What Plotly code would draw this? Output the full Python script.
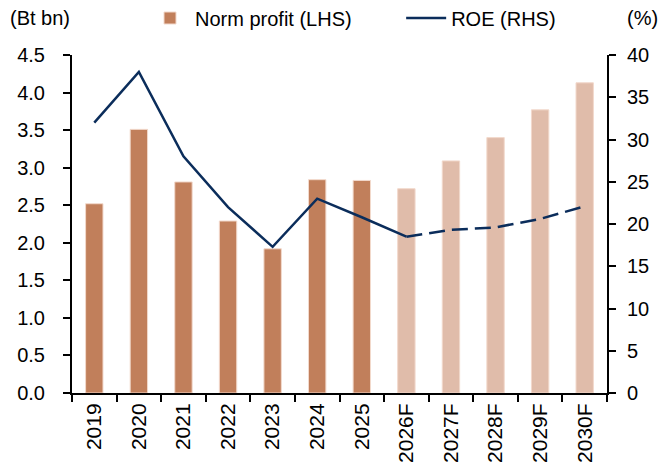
import plotly.graph_objects as go

years = ["2019", "2020", "2021", "2022", "2023", "2024", "2025",
         "2026F", "2027F", "2028F", "2029F", "2030F"]
norm_profit = [2.52, 3.51, 2.81, 2.29, 1.92, 2.84, 2.83, 2.72, 3.09, 3.40, 3.77, 4.13]
roe = [32.0, 38.0, 28.0, 22.0, 17.3, 23.0, 20.8, 18.5, 19.3, 19.6, 20.6, 22.1]
n_actual = 7  # 2019-2025 actual, rest forecast

DARK = "#C17F5B"
LIGHT = "#E0BCAA"
NAVY = "#0B2D5B"
FONT = "Liberation Sans, Arial, sans-serif"

bar_colors = [DARK if i < n_actual else LIGHT for i in range(len(years))]

# page body adds an 8px offset; plot area in page coords: x 72..607, y 55..393
L, T, PW, PH = 64, 47, 535, 338

fig = go.Figure()
fig.add_trace(go.Bar(
    x=years, y=norm_profit, name="Norm profit (LHS)" + "\u00a0" * 8,
    marker=dict(color=bar_colors, line=dict(color="#F2D9CC", width=1)),
    width=0.39, yaxis="y",
))
fig.add_trace(go.Scatter(
    x=years[:n_actual + 1], y=roe[:n_actual + 1], name="ROE (RHS)",
    mode="lines", line=dict(color=NAVY, width=2.5), yaxis="y2",
))
fig.add_trace(go.Scatter(
    x=years[n_actual:], y=roe[n_actual:], name="ROE (RHS)", showlegend=False,
    mode="lines", line=dict(color=NAVY, width=2.5, dash="16px,7px"), yaxis="y2",
))

fig.update_layout(
    width=670, height=464,
    margin=dict(l=L, r=670 - L - PW, t=T, b=464 - T - PH, autoexpand=False),
    plot_bgcolor="white", paper_bgcolor="white",
    font=dict(family=FONT, size=20, color="black"),
    showlegend=True,
    legend=dict(orientation="h", xref="container", yref="container",
                x=137 / 670, xanchor="left", y=1 - 10 / 464, yanchor="middle",
                font=dict(size=20), bgcolor="rgba(0,0,0,0)", itemwidth=40),
    xaxis=dict(
        type="category", showline=True, linecolor="black", linewidth=2,
        ticks="outside", tickson="boundaries", ticklen=7, tickwidth=2, tickcolor="black",
        tickangle=-90, tickfont=dict(size=21), showgrid=False, zeroline=False,
        automargin=False,
    ),
    yaxis=dict(
        range=[0, 4.5], dtick=0.5, tickformat=".1f", showline=True, linecolor="black",
        linewidth=2, ticks="outside", ticklen=7, tickwidth=2, tickcolor="black",
        showgrid=False, zeroline=False, tickfont=dict(size=20), automargin=False,
        ticklabelstandoff=14,
    ),
    yaxis2=dict(
        range=[0, 40], dtick=5, overlaying="y", side="right", showline=True,
        linecolor="black", linewidth=2, ticks="outside", ticklen=7, tickwidth=2,
        tickcolor="black", showgrid=False, zeroline=False, tickfont=dict(size=20),
        automargin=False, ticklabelstandoff=7,
    ),
    annotations=[
        dict(text="(Bt bn)", xref="paper", yref="paper", x=-L / PW, y=1 + (T - 10) / PH,
             xanchor="left", yanchor="middle", showarrow=False, font=dict(size=20)),
        dict(text="(%)", xref="paper", yref="paper", x=(652 - L) / PW, y=1 + (T - 10) / PH,
             xanchor="right", yanchor="middle", showarrow=False, font=dict(size=20)),
    ],
)

fig.write_html("out.html")
